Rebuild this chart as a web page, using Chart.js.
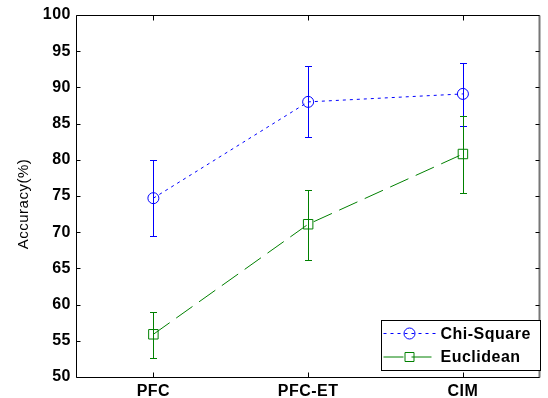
<!DOCTYPE html>
<html>
<head>
<meta charset="utf-8">
<script src="https://cdn.jsdelivr.net/npm/chart.js@4.4.0/dist/chart.umd.min.js"></script>
<style>
  html, body { margin: 0; padding: 0; background: #fff; }
  #wrap { width: 548px; height: 398px; }
</style>
</head>
<body>
<div id="wrap"><canvas id="chart-goes-here" width="548" height="398"></canvas></div>
<script>
// data
const categories = ['PFC', 'PFC-ET', 'CIM'];
const chiSquare = [74.7, 88.0, 89.1];
const chiSquareUp = [80.0, 92.9, 93.4];
const chiSquareDown = [69.5, 83.2, 84.7];
const euclidean = [55.9, 71.1, 80.8];
const euclideanUp = [59.0, 75.8, 86.0];
const euclideanDown = [52.6, 66.2, 75.4];
const yTicks = [50, 55, 60, 65, 70, 75, 80, 85, 90, 95, 100];
const yTitle = 'Accuracy(%)';

const FONT = '"Liberation Sans", Arial, sans-serif';
const BLUE = '#0000ff';
const GREEN = '#008000';

// a bit wider spacing, like the original windows text
const spacing = {
    id: 'spacing',
    beforeUpdate(chart) { chart.ctx.letterSpacing = '0.5px'; },
    beforeDraw(chart) { chart.ctx.letterSpacing = '0.5px'; }
};

// error bars, drawn through the chart scales
const errorBars = {
    id: 'errorBars',
    beforeDatasetsDraw(chart) {
        const ctx = chart.ctx;
        const xs = chart.scales.x, ys = chart.scales.y;
        chart.data.datasets.forEach((ds) => {
            ctx.save();
            ctx.strokeStyle = ds.borderColor;
            ctx.lineWidth = 1;
            ctx.setLineDash([]);
            ds.data.forEach((v, i) => {
                const x = Math.round(xs.getPixelForValue(i)) + 0.5;
                const yt = Math.round(ys.getPixelForValue(ds.errUp[i])) + 0.5;
                const yb = Math.round(ys.getPixelForValue(ds.errDown[i])) + 0.5;
                ctx.beginPath();
                ctx.moveTo(x, yt); ctx.lineTo(x, yb);
                ctx.moveTo(x - 3.5, yt); ctx.lineTo(x + 3.5, yt);
                ctx.moveTo(x - 3.5, yb); ctx.lineTo(x + 3.5, yb);
                ctx.stroke();
            });
            ctx.restore();
        });
    }
};

// matlab style box with inward ticks, y title and an inside legend
const boxAndLegend = {
    id: 'boxAndLegend',
    afterDraw(chart) {
        const ctx = chart.ctx;
        const a = chart.chartArea;
        const xs = chart.scales.x, ys = chart.scales.y;
        const L = Math.round(a.left) + 0.5, R = Math.round(a.right) - 0.5;
        const T = Math.round(a.top) + 0.5, B = Math.round(a.bottom) + 0.5;
        ctx.save();
        ctx.strokeStyle = '#000';
        ctx.lineWidth = 1;
        ctx.beginPath();
        ctx.moveTo(L, T); ctx.lineTo(R, T);
        ctx.moveTo(L, T); ctx.lineTo(L, B); ctx.lineTo(R, B);
        ctx.stroke();
        ctx.strokeStyle = '#777';
        ctx.lineWidth = 2;
        ctx.beginPath();
        ctx.moveTo(R, T); ctx.lineTo(R, B);
        ctx.stroke();
        ctx.strokeStyle = '#000';
        ctx.lineWidth = 1;
        ctx.beginPath();
        yTicks.forEach((t) => {
            const y = Math.round(ys.getPixelForValue(t)) + 0.5;
            ctx.moveTo(L, y); ctx.lineTo(L + 4, y);
            ctx.moveTo(R, y); ctx.lineTo(R - 4, y);
        });
        categories.forEach((c, i) => {
            const x = Math.round(xs.getPixelForValue(i)) + 0.5;
            ctx.moveTo(x, B); ctx.lineTo(x, B - 5);
            ctx.moveTo(x, T); ctx.lineTo(x, T + 5);
        });
        ctx.stroke();

        // y axis title
        ctx.save();
        ctx.translate(24, (a.top + a.bottom) / 2 + 8);
        ctx.rotate(-Math.PI / 2);
        ctx.fillStyle = '#000';
        ctx.font = '15px ' + FONT;
        ctx.letterSpacing = '0.5px';
        ctx.textAlign = 'center';
        ctx.textBaseline = 'middle';
        ctx.fillText(yTitle, 0, 0);
        ctx.restore();

        // legend
        const lx = 381.5, ly = 320.5, lw = 159, lh = 50;
        ctx.fillStyle = '#fff';
        ctx.fillRect(lx, ly, lw, lh);
        ctx.strokeRect(lx, ly, lw, lh);
        ctx.font = 'bold 16px ' + FONT;
        ctx.letterSpacing = '0.5px';
        ctx.textBaseline = 'middle';
        ctx.textAlign = 'left';
        chart.data.datasets.forEach((ds, i) => {
            const cy = ly + 13 + i * 23.5;
            ctx.strokeStyle = ds.borderColor;
            ctx.lineWidth = 1;
            ctx.setLineDash(ds.borderDash);
            ctx.beginPath();
            ctx.moveTo(lx + 2, cy); ctx.lineTo(lx + 54, cy);
            ctx.stroke();
            ctx.setLineDash([]);
            ctx.beginPath();
            if (ds.pointStyle === 'circle') {
                ctx.arc(lx + 28, cy, 5.5, 0, Math.PI * 2);
            } else {
                ctx.rect(lx + 23.5, cy - 4.5, 9, 9);
            }
            ctx.stroke();
            ctx.fillStyle = '#000';
            ctx.fillText(ds.label, lx + 59, cy + 1);
        });
        ctx.restore();
    }
};

const config = {
    type: 'line',
    data: {
        labels: categories,
        datasets: [{
            label: 'Chi-Square',
            data: chiSquare,
            errUp: chiSquareUp,
            errDown: chiSquareDown,
            borderColor: BLUE,
            borderWidth: 1,
            borderDash: [3, 4],
            pointStyle: 'circle',
            pointRadius: 5.5,
            pointBorderWidth: 1,
            pointBackgroundColor: 'rgba(0,0,0,0)',
            pointBorderColor: BLUE,
            tension: 0,
            fill: false
        }, {
            label: 'Euclidean',
            data: euclidean,
            errUp: euclideanUp,
            errDown: euclideanDown,
            borderColor: GREEN,
            borderWidth: 1,
            borderDash: [20, 8],
            pointStyle: 'rect',
            pointRadius: 6.7,
            pointBorderWidth: 1,
            pointBackgroundColor: 'rgba(0,0,0,0)',
            pointBorderColor: GREEN,
            tension: 0,
            fill: false
        }]
    },
    options: {
        responsive: false,
        animation: false,
        events: [],
        layout: { padding: { left: 0, top: 15, right: 1, bottom: 0 } },
        plugins: { legend: { display: false }, tooltip: { enabled: false } },
        scales: {
            x: {
                type: 'category',
                offset: true,
                grid: { display: false, drawTicks: false },
                border: { display: false },
                ticks: { color: '#000', padding: 5, font: { family: FONT, size: 16, weight: 'bold' } },
                afterFit(scale) { scale.height = 21; }
            },
            y: {
                min: 50,
                max: 100,
                grid: { display: false, drawTicks: false },
                border: { display: false },
                afterBuildTicks(scale) { scale.ticks = yTicks.map((v) => ({ value: v })); },
                ticks: { color: '#000', padding: 5, font: { family: FONT, size: 16, weight: 'bold' } },
                afterFit(scale) { scale.width = 76; }
            }
        }
    },
    plugins: [spacing, errorBars, boxAndLegend]
};

new Chart(document.getElementById('chart-goes-here'), config);
</script>
</body>
</html>
